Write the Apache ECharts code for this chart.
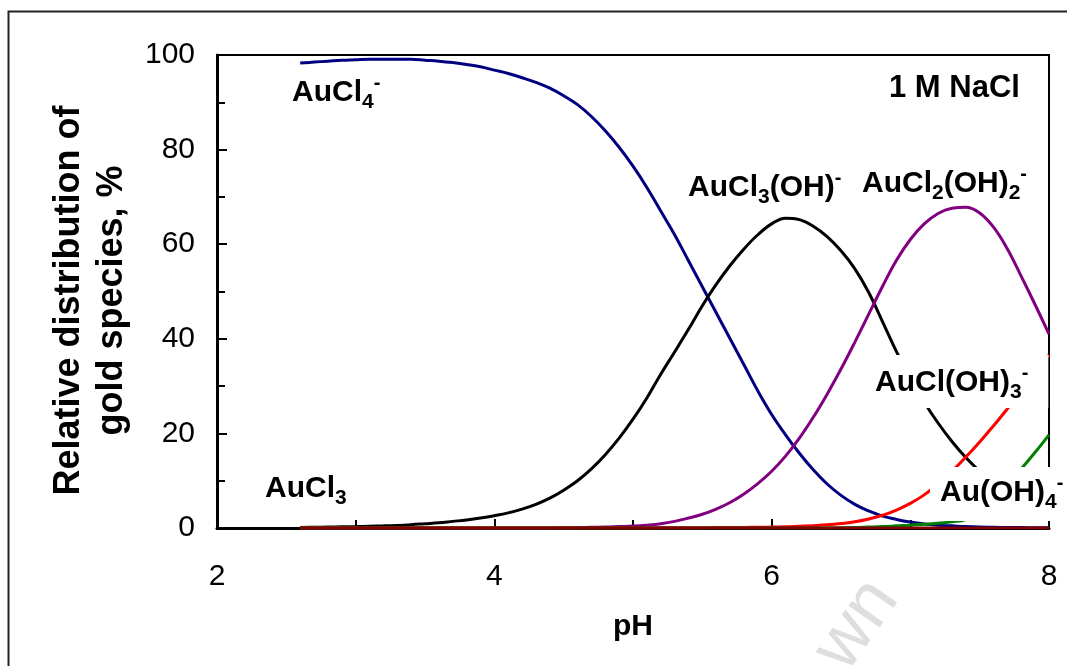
<!DOCTYPE html>
<html>
<head>
<meta charset="utf-8">
<script src="https://cdn.jsdelivr.net/npm/echarts@6/dist/echarts.min.js"></script>
<style>
html,body{margin:0;padding:0;background:#fff;}
#chart{width:1067px;height:666px;}
</style>
</head>
<body>
<div id="chart"></div>
<script>
// ---- data ----
const pH = [2.6,2.7,2.8,2.9,3.0,3.1,3.2,3.3,3.4,3.5,3.6,3.7,3.8,3.9,4.0,4.1,4.2,4.3,4.4,4.5,4.6,4.7,4.8,4.9,5.0,5.1,5.2,5.3,5.4,5.5,5.6,5.7,5.8,5.9,6.0,6.1,6.2,6.3,6.4,6.5,6.6,6.7,6.8,6.9,7.0,7.1,7.2,7.3,7.4,7.5,7.6,7.7,7.8,7.9,8.0];
const AuCl4 = [98.3,98.5,98.7,98.9,99.0,99.1,99.1,99.1,99.1,98.9,98.7,98.4,98.0,97.5,96.8,96.1,95.2,94.2,93.0,91.4,89.5,87.0,84.0,80.5,76.5,72.0,67.0,62.0,56.5,51.0,45.5,40.0,34.5,29.0,24.0,19.7,15.8,12.3,9.3,6.9,5.0,3.6,2.5,1.8,1.25,0.85,0.6,0.45,0.3,0.2,0.15,0.1,0.08,0.05,0.04];
const AuCl3OH = [0.1,0.15,0.2,0.25,0.3,0.38,0.45,0.55,0.7,0.9,1.1,1.4,1.7,2.1,2.6,3.2,4.0,5.0,6.3,8.0,10.0,12.5,15.5,19.0,23.0,27.5,32.5,37.2,42.0,47.0,51.5,55.5,59.0,62.0,64.3,65.5,65.2,63.8,61.6,58.6,54.8,49.8,43.6,37.3,31.6,26.6,22.2,18.3,14.9,12.0,9.5,7.5,5.9,4.6,3.6];
const AuCl2OH2 = [0,0,0,0,0,0,0,0,0,0,0,0,0,0,0,0,0,0,0,0.05,0.1,0.15,0.2,0.3,0.4,0.6,0.9,1.4,2.1,2.9,4.0,5.4,7.2,9.4,12.0,15.2,19.0,23.4,28.3,33.6,39.3,45.2,51.1,56.6,61.0,64.3,66.5,67.6,67.8,66.6,63.6,59.0,53.2,47.2,41.0];
const AuClOH3 = [0,0,0,0,0,0,0,0,0,0,0,0,0,0,0,0,0,0,0,0,0,0,0,0,0.01,0.02,0.03,0.04,0.05,0.06,0.08,0.1,0.12,0.16,0.2,0.27,0.36,0.5,0.68,0.95,1.3,1.9,2.7,3.8,5.2,7.0,9.3,12.0,15.0,18.2,21.6,25.2,28.9,32.7,36.6];
const AuOH4 = [0,0,0,0,0,0,0,0,0,0,0,0,0,0,0,0,0,0,0,0,0,0,0,0,0,0,0,0,0,0,0,0,0,0,0,0,0,0,0,0.05,0.1,0.2,0.3,0.45,0.6,0.8,1.0,1.3,1.8,3.2,5.5,8.7,12.5,16.0,19.7];
const AuCl3 = [0,0,0,0,0,0,0,0,0,0,0,0,0,0,0,0,0,0,0,0,0,0,0,0,0,0,0,0,0,0,0,0,0,0,0,0,0,0,0,0,0,0,0,0,0,0,0,0,0,0,0,0,0,0,0];
const xTicks = [2,4,6,8];
const yTicks = [0,20,40,60,80,100];

const F = '"Liberation Sans", Arial, sans-serif';
const pair = arr => pH.map((x,i)=>[x,arr[i]]);

const chart = echarts.init(document.getElementById('chart'), null, {renderer:'canvas'});

const rich = {
  m:{fontSize:30,fontWeight:'bold',fontFamily:F,lineHeight:40,verticalAlign:'middle',fill:'#000',color:'#000'},
  n:{fontSize:31,fontWeight:'bold',fontFamily:F,lineHeight:40,verticalAlign:'middle',fill:'#000',color:'#000'},
  s:{fontSize:21,fontWeight:'bold',fontFamily:F,verticalAlign:'bottom',fill:'#000',color:'#000'},
  u:{fontSize:20,fontWeight:'bold',fontFamily:F,verticalAlign:'top',fill:'#000',color:'#000'}
};
function lab(text,x,y,extra){
  return Object.assign({type:'text',x:x,y:y,z:100,silent:true,
    style:Object.assign({text:text,rich:rich,align:'left',verticalAlign:'top',fill:'#000',font:'bold 30px '+F},extra||{})});
}

function ser(name,arr,color,z){
  return {name:name,type:'line',data:pair(arr),showSymbol:false,symbol:'none',smooth:0.4,
    lineStyle:{color:color,width:3},itemStyle:{color:color},z:z,animation:false};
}

chart.setOption({
  animation:false,
  grid:{left:217,right:18,top:55,bottom:138,show:true,borderColor:'#000',borderWidth:2,backgroundColor:'transparent'},
  xAxis:{type:'value',min:xTicks[0],max:xTicks[xTicks.length-1],interval:xTicks[1]-xTicks[0],
    name:'pH',nameLocation:'middle',nameGap:84,
    nameTextStyle:{fontSize:30,fontWeight:'bold',fontFamily:F,color:'#000'},
    axisLine:{lineStyle:{color:'#000',width:3}},
    axisTick:{inside:true,length:9,lineStyle:{color:'#000',width:2}},
    minorTick:{show:true,splitNumber:2,length:8,lineStyle:{color:'#000',width:2}},
    axisLabel:{fontSize:30,fontFamily:F,color:'#000',margin:34},
    splitLine:{show:false},minorSplitLine:{show:false}},
  yAxis:{type:'value',min:yTicks[0],max:yTicks[yTicks.length-1],interval:yTicks[1]-yTicks[0],
    name:'Relative distribution of\ngold species, %',nameLocation:'middle',nameGap:82,nameRotate:90,
    nameTextStyle:{fontSize:36,fontWeight:'bold',fontFamily:F,color:'#000',lineHeight:43,padding:[0,18,0,0]},
    axisLine:{show:true,lineStyle:{color:'#000',width:3}},
    axisTick:{show:true,inside:true,length:10,lineStyle:{color:'#000',width:2}},
    minorTick:{show:true,splitNumber:2,length:8,lineStyle:{color:'#000',width:2}},
    axisLabel:{fontSize:30,fontFamily:F,color:'#000',margin:22},
    splitLine:{show:false},minorSplitLine:{show:false}},
  series:[
    ser('AuCl4-',AuCl4,'#000080',3),
    ser('AuCl3(OH)-',AuCl3OH,'#000000',3),
    ser('AuCl2(OH)2-',AuCl2OH2,'#800080',3),
    ser('AuCl(OH)3-',AuClOH3,'#ff0000',3),
    ser('Au(OH)4-',AuOH4,'#008000',3),
    ser('AuCl3',AuCl3,'#800000',4)
  ],
  graphic:[
    {type:'rect',silent:true,z:0,shape:{x:8.5,y:11.5,width:1100,height:700},style:{fill:null,stroke:'#222',lineWidth:2}},
    {type:'text',silent:true,z:1,x:857,y:625,rotation:55*Math.PI/180,
      style:{text:'wn',font:'72px '+F,fill:'#dedede',align:'center',verticalAlign:'middle'}},
    lab('{m|AuCl}{s|4}{u|-}',292,73),
    lab('{m|AuCl}{s|3}{m|(OH)}{u|-}',688,168),
    lab('{m|AuCl}{s|2}{m|(OH)}{s|2}{u|-}',862,164),
    lab('{m|AuCl(OH)}{s|3}{u|-}',870,355,{backgroundColor:'#fff',padding:[8,20,5,5]}),
    lab('{m|Au(OH)}{s|4}{u|-}',930,467,{backgroundColor:'#fff',padding:[6,10,8,10]}),
    lab('{m|AuCl}{s|3}',265,469),
    lab('{n|1 M NaCl}',889,68)
  ]
});
</script>
</body>
</html>
